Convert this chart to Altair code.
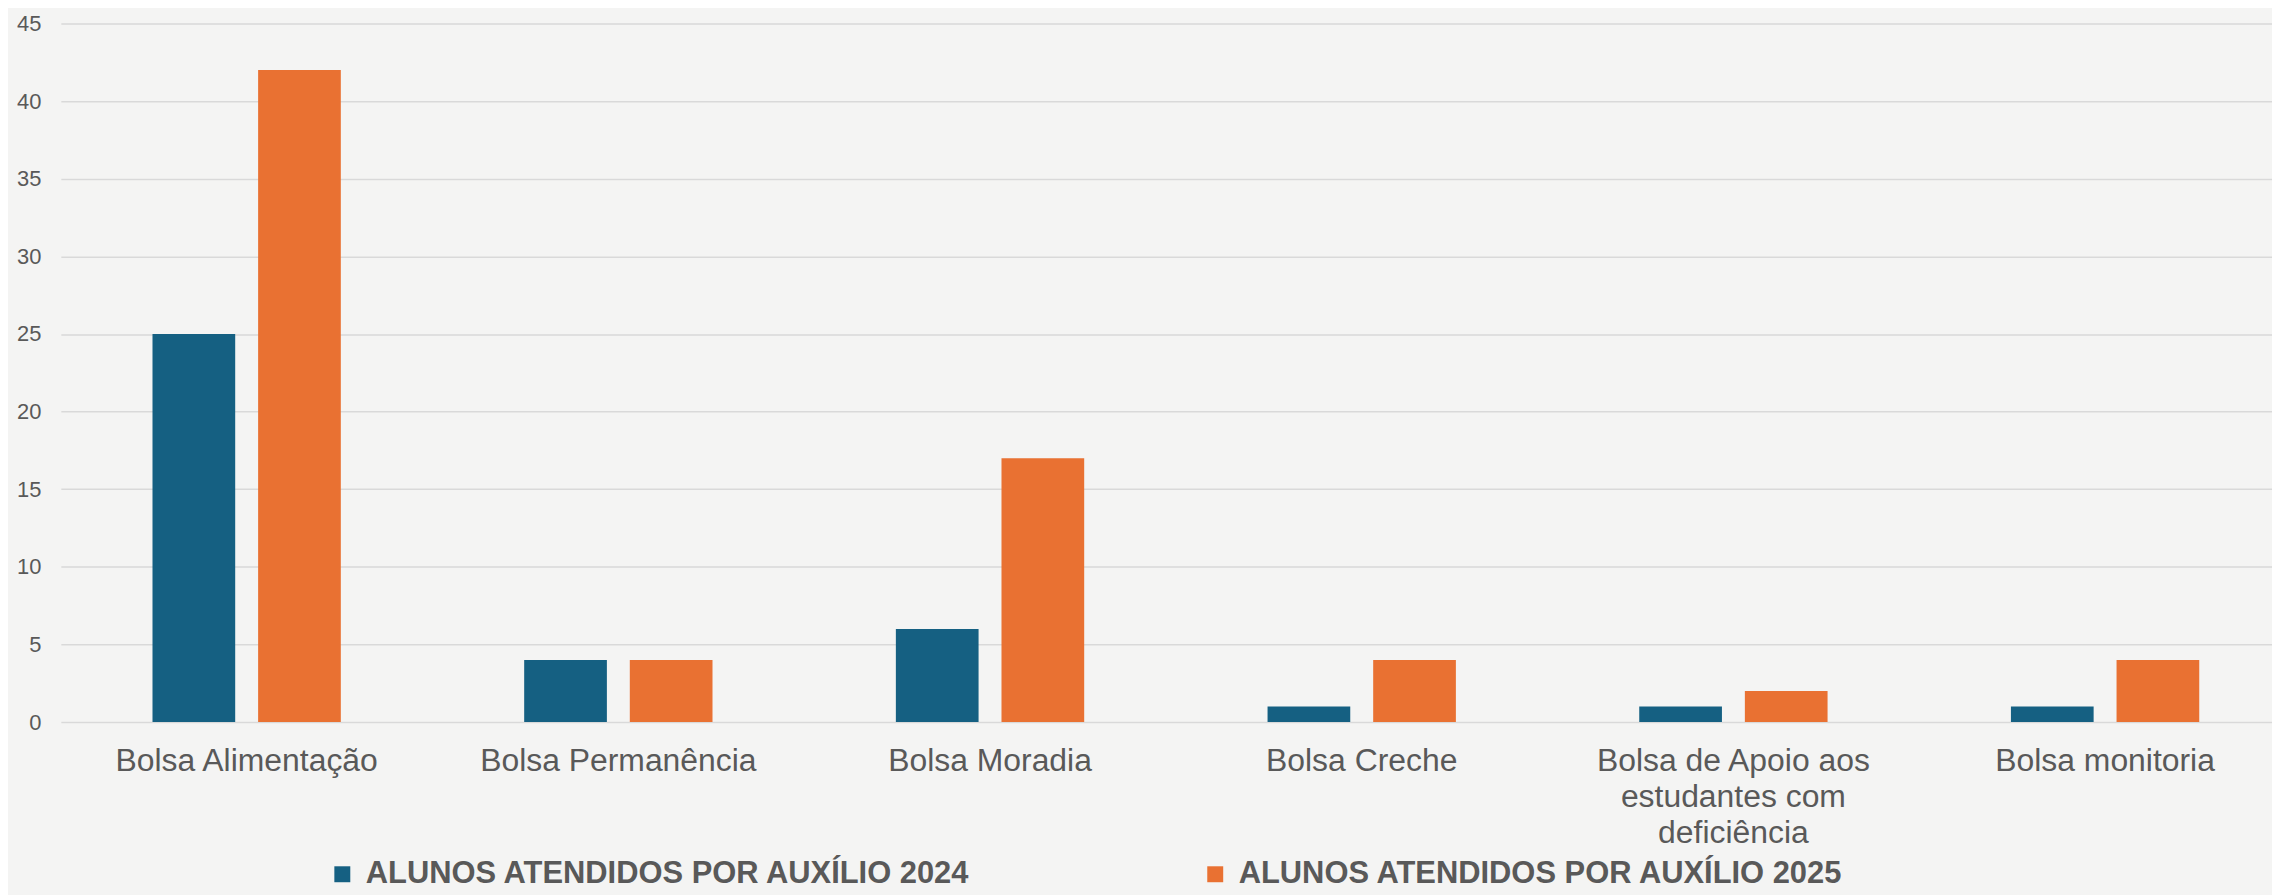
import json
import altair as alt
import pandas as pd

# ---- data ----
categories = [
    "Bolsa Alimentação",
    "Bolsa Permanência",
    "Bolsa Moradia",
    "Bolsa Creche",
    "Bolsa de Apoio aos estudantes com deficiência",
    "Bolsa monitoria",
]
label_lines = [
    ["Bolsa Alimentação"],
    ["Bolsa Permanência"],
    ["Bolsa Moradia"],
    ["Bolsa Creche"],
    ["Bolsa de Apoio aos", "estudantes com", "deficiência"],
    ["Bolsa monitoria"],
]
series = ["ALUNOS ATENDIDOS POR AUXÍLIO 2024", "ALUNOS ATENDIDOS POR AUXÍLIO 2025"]
values_2024 = [25, 4, 6, 1, 1, 1]
values_2025 = [42, 4, 17, 4, 2, 4]
colors = ["#156082", "#E97132"]
y_ticks = [0, 5, 10, 15, 20, 25, 30, 35, 40, 45]

rows = []
for c, v in zip(categories, values_2024):
    rows.append({"categoria": c, "serie": series[0], "valor": v})
for c, v in zip(categories, values_2025):
    rows.append({"categoria": c, "serie": series[1], "valor": v})
df = pd.DataFrame(rows)

# multi-line label expression
expr = "datum.label"
for cat, lines in zip(categories, label_lines):
    if len(lines) > 1:
        expr = (
            f"datum.label == {json.dumps(cat, ensure_ascii=False)} ? "
            f"{json.dumps(lines, ensure_ascii=False)} : ({expr})"
        )

text_color = "#595959"
grid_color = "#d9d9d9"

chart = (
    alt.Chart(df)
    .mark_bar()
    .encode(
        x=alt.X(
            "categoria:N",
            sort=categories,
            scale=alt.Scale(range=[0, 2238], paddingInner=0, paddingOuter=0),
            axis=alt.Axis(
                title=None,
                labelAngle=0,
                labelAlign="center",
                labelBaseline="top",
                labelFontSize=32,
                labelColor=text_color,
                labelPadding=24,
                labelLimit=0,
                labelLineHeight=36,
                labelExpr=expr,
                ticks=False,
                tickSize=0,
                domain=False,
                grid=False,
            ),
        ),
        xOffset=alt.XOffset(
            "serie:N",
            sort=series,
            scale=alt.Scale(paddingInner=0.217, paddingOuter=0.868),
        ),
        y=alt.Y(
            "valor:Q",
            scale=alt.Scale(domain=[0, 45], nice=False),
            axis=alt.Axis(
                title=None,
                values=y_ticks,
                labelFontSize=22,
                labelColor=text_color,
                labelPadding=20,
                ticks=False,
                tickSize=0,
                domain=False,
                grid=True,
                gridColor=grid_color,
                gridWidth=1.5,
                minExtent=53,
                maxExtent=53,
            ),
        ),
        color=alt.Color(
            "serie:N",
            sort=series,
            scale=alt.Scale(domain=series, range=colors),
            legend=alt.Legend(
                title=None,
                orient="none",
                legendX=267,
                legendY=838,
                direction="horizontal",
                columnPadding=229,
                labelLimit=0,
                labelFontSize=31,
                labelFontWeight="bold",
                labelColor=text_color,
                labelOffset=8,
                symbolType="square",
                symbolSize=256,
                symbolStrokeWidth=0,
                padding=0,
            ),
        ),
    )
    .properties(
        width=2219,
        height=701,
        autosize=alt.AutoSizeParams(type="none"),
        padding={"left": 53, "top": 14, "right": 0, "bottom": 172},
        background="#f4f4f3",
    )
    .configure(font="Liberation Sans")
    .configure_view(strokeWidth=0)
)

chart.save("out.html", embed_options={"renderer": "svg", "actions": False})
